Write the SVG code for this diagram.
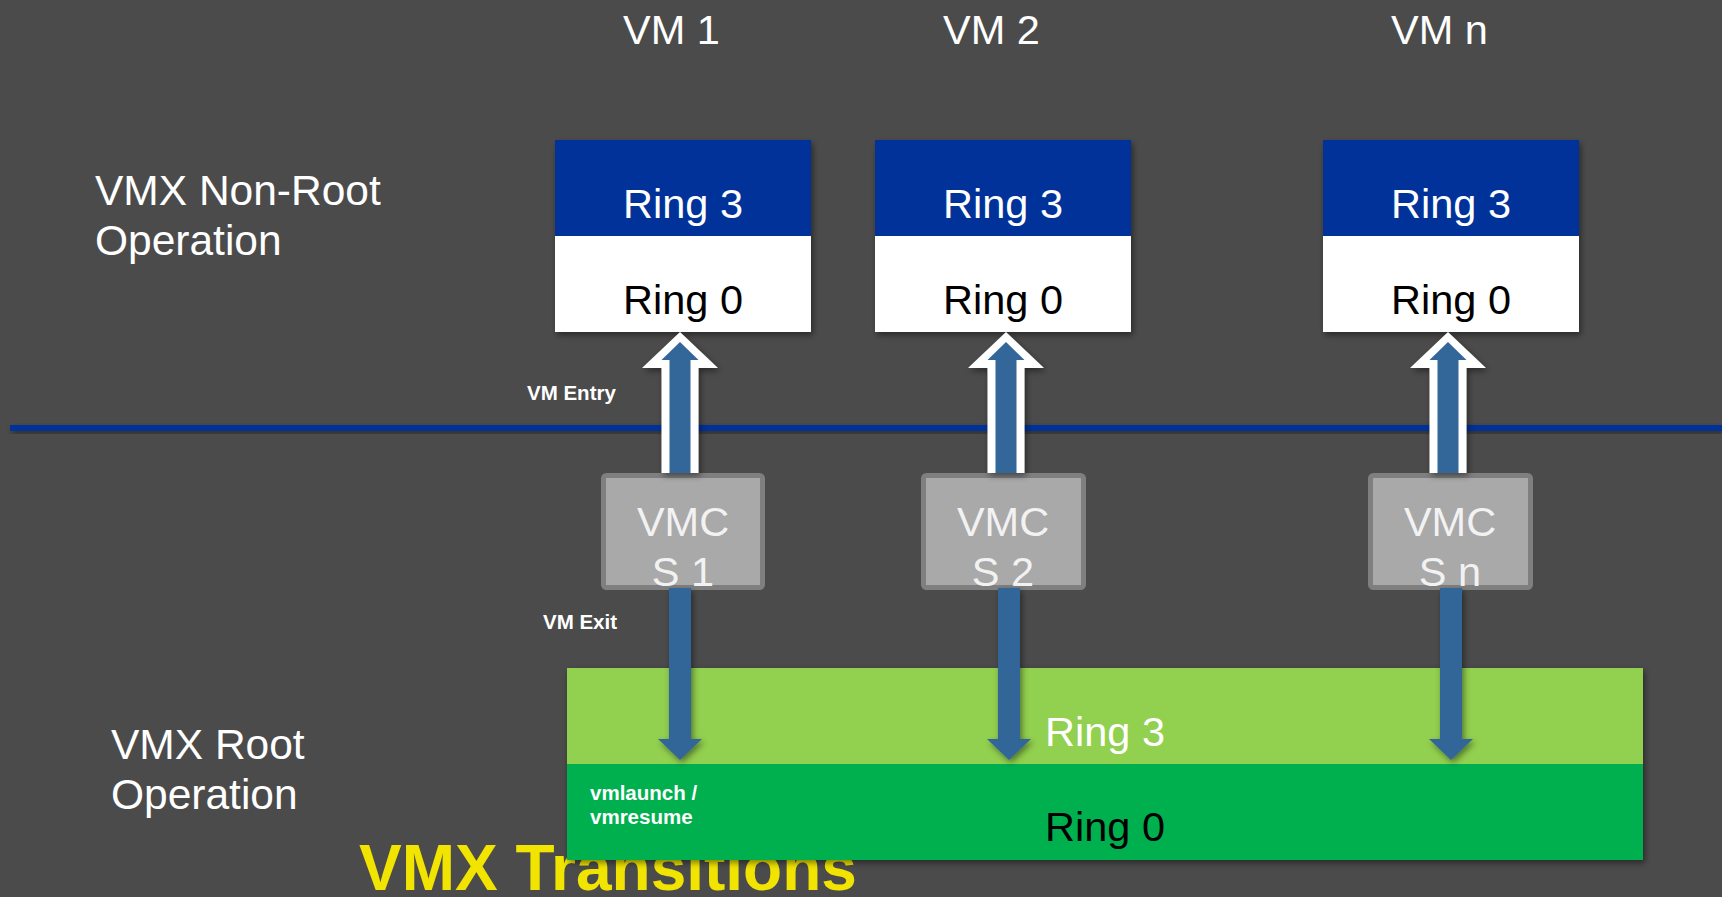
<svg xmlns="http://www.w3.org/2000/svg" width="1722" height="897" viewBox="0 0 1722 897">
<defs>
<filter id="sh" x="-20%" y="-20%" width="140%" height="160%">
<feDropShadow dx="2" dy="3" stdDeviation="3" flood-color="#000" flood-opacity="0.45"/>
</filter>
<style>
.t{font-family:"Liberation Sans",Arial,sans-serif;font-size:41.5px}
.l{font-family:"Liberation Sans",Arial,sans-serif;font-size:42.5px}
.w{fill:#ffffff}
.k{fill:#000000}
.c{text-anchor:middle}
.b{font-family:"Liberation Sans",Arial,sans-serif;font-weight:bold;fill:#ffffff;font-size:20.5px}
.ring3{fill:#003399}
.ring0{fill:#ffffff}
.vmcs{fill:#a9a9a9;stroke:#7f7f7f;stroke-width:5}
.arw{fill:#336699}
.aro{fill:#ffffff}
</style>
</defs>
<rect x="0" y="0" width="1722" height="897" fill="#4b4b4b"/>

<g id="title">
<text x="359" y="890" font-family="Liberation Sans,Arial,sans-serif" font-weight="bold" font-size="64" fill="#f0e400">VMX Transitions</text>
</g>

<g id="labels">
<text class="l w" x="95" y="205">VMX Non-Root</text>
<text class="l w" x="95" y="255">Operation</text>
<text class="l w" x="111" y="759">VMX Root</text>
<text class="l w" x="111" y="809">Operation</text>
<text class="t w" x="623" y="44">VM 1</text>
<text class="t w" x="943" y="44">VM 2</text>
<text class="t w" x="1391" y="44">VM n</text>
</g>

<g id="boundary">
<rect x="10" y="425" width="1712" height="6" fill="#003399" filter="url(#sh)"/>
</g>

<g id="vm1">
<g filter="url(#sh)">
<rect class="ring3" x="555" y="140" width="256" height="96"/>
<rect class="ring0" x="555" y="236" width="256" height="96"/>
</g>
<text class="t w c" x="683" y="218">Ring 3</text>
<text class="t k c" x="683" y="314">Ring 0</text>
</g>
<g id="vm2">
<g filter="url(#sh)">
<rect class="ring3" x="875" y="140" width="256" height="96"/>
<rect class="ring0" x="875" y="236" width="256" height="96"/>
</g>
<text class="t w c" x="1003" y="218">Ring 3</text>
<text class="t k c" x="1003" y="314">Ring 0</text>
</g>
<g id="vmn">
<g filter="url(#sh)">
<rect class="ring3" x="1323" y="140" width="256" height="96"/>
<rect class="ring0" x="1323" y="236" width="256" height="96"/>
</g>
<text class="t w c" x="1451" y="218">Ring 3</text>
<text class="t k c" x="1451" y="314">Ring 0</text>
</g>

<g id="root">
<g filter="url(#sh)">
<rect x="567" y="668" width="1076" height="96" fill="#92d050"/>
<rect x="567" y="764" width="1076" height="96" fill="#00b050"/>
</g>
<text class="t w" x="1045" y="746">Ring 3</text>
<text class="t k" x="1045" y="841">Ring 0</text>
<text class="b" x="590" y="800">vmlaunch /</text>
<text class="b" x="590" y="824">vmresume</text>
</g>

<g id="vmcs1">
<rect class="vmcs" x="603.5" y="475.5" width="159" height="112" rx="3"/>
<text class="t c" fill="#f2f2f2" x="683" y="536">VMC</text>
<text class="t c" fill="#f2f2f2" x="683" y="586">S 1</text>
</g>
<g id="vmcs2">
<rect class="vmcs" x="923.5" y="475.5" width="160" height="112" rx="3"/>
<text class="t c" fill="#f2f2f2" x="1003" y="536">VMC</text>
<text class="t c" fill="#f2f2f2" x="1003" y="586">S 2</text>
</g>
<g id="vmcsn">
<rect class="vmcs" x="1370.5" y="475.5" width="160" height="112" rx="3"/>
<text class="t c" fill="#f2f2f2" x="1450" y="536">VMC</text>
<text class="t c" fill="#f2f2f2" x="1450" y="586">S n</text>
</g>

<g id="connectors">
<g filter="url(#sh)">
<polygon class="aro" points="680,332 718,368 698.5,368 698.5,473 661.5,473 661.5,368 642,368"/>
<polygon class="aro" points="1006,332 1044,368 1024.5,368 1024.5,473 987.5,473 987.5,368 968,368"/>
<polygon class="aro" points="1448,332 1486,368 1466.5,368 1466.5,473 1429.5,473 1429.5,368 1410,368"/>
</g>
<polygon class="arw" points="680,342 698.5,360 690.5,360 690.5,473 669.5,473 669.5,360 661.5,360"/>
<polygon class="arw" points="1006,342 1024.5,360 1016.5,360 1016.5,473 995.5,473 995.5,360 987.5,360"/>
<polygon class="arw" points="1448,342 1466.5,360 1458.5,360 1458.5,473 1437.5,473 1437.5,360 1429.5,360"/>
<g filter="url(#sh)">
<polygon class="arw" points="669,588 691,588 691,739 702,739 680,760 658,739 669,739"/>
<polygon class="arw" points="998,588 1020,588 1020,739 1031,739 1009,760 987,739 998,739"/>
<polygon class="arw" points="1440,588 1462,588 1462,739 1473,739 1451,760 1429,739 1440,739"/>
</g>
<text class="b" x="527" y="400">VM Entry</text>
<text class="b" x="543" y="629">VM Exit</text>
</g>
</svg>
